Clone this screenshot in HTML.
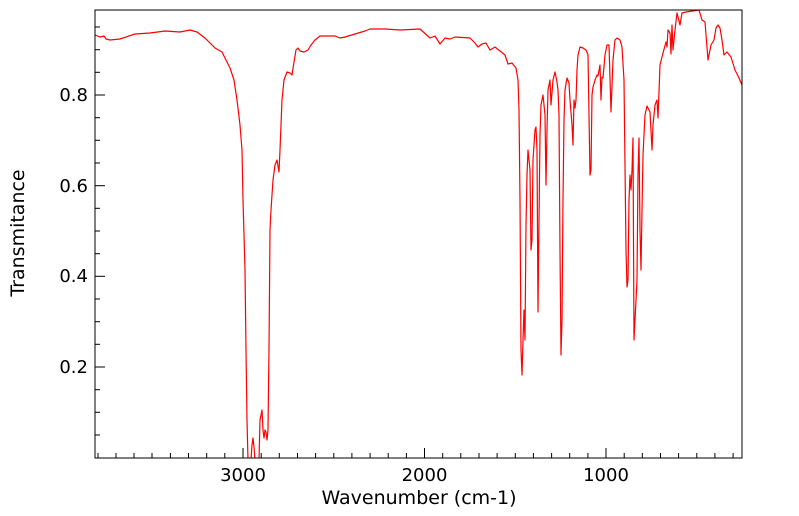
<!DOCTYPE html>
<html><head><meta charset="utf-8"><style>body{margin:0;background:#fff}svg{display:block}</style></head><body>
<svg width="799" height="516" viewBox="0 0 799 516" xmlns="http://www.w3.org/2000/svg" font-family="DejaVu Sans, Liberation Sans, sans-serif">
<rect width="799" height="516" fill="#fff"/>
<clipPath id="c"><rect x="95" y="10" width="647" height="448"/></clipPath>
<polyline clip-path="url(#c)" fill="none" stroke="#ff0000" stroke-width="1.2" stroke-linejoin="round" points="95,35 100,37 104,36 106,39 110,40 120,39 135,34 150,33 165,31 180,32 190,30 197,32 205,38 215,48 222,52 225,58 230,68 234,80 237,100 240,125 242,150 243,200 245,270 246,350 247,420 248,460 251,460 252,445 253,438 254,447 255,460 259,460 260,420 262,410 263,430 264,438 265,430 266,432 267,440 268,430 269,350 270,230 271,210 273,180 275,165 277,160 279,172 280,150 282,100 284,80 287,72 290,73 292,75 294,62 296,50 298,48 300,51 304,52 308,50 311,45 315,40 320,36 335,36 340,38 345,37 355,34 365,31 370,29 385,29 400,30 420,29 430,38 435,36 440,44 445,38 450,39 455,37 470,38 475,43 478,47 482,44 486,43 490,50 495,47 500,51 505,55 508,64 512,63 516,68 518,80 519,110 520,200 521,350 522,375 523,340 524,310 525,340 526,225 527,175 528,150 530,170 531,250 532,240 533,160 535,130 536,127 537,150 538,312 539,220 540,135 541,105 543,95 545,115 546,185 547,130 548,90 550,80 551,105 553,80 555,72 557,82 558,90 559,115 560,250 561,355 562,320 563,200 564,120 565,90 567,78 569,83 570,100 572,125 573,145 574,100 575,108 576,100 577,70 578,55 580,47 583,48 586,50 588,55 590,175 591,170 592,95 593,87 595,80 597,75 598,76 600,65 601,100 602,77 603,78 605,55 607,45 609,45 611,112 613,60 615,40 617,38 620,40 622,47 624,80 626,250 627,287 628,280 629,200 630,175 631,190 632,170 633,138 634,340 636,300 637,280 638,175 639,138 640,230 641,270 642,210 643,155 645,115 647,106 650,112 652,150 653,125 655,105 657,100 658,118 660,65 663,53 666,42 667,47 668,30 670,33 671,54 672,25 673,50 675,30 677,13 680,25 682,13 686,12 699,10 702,20 705,22 708,60 711,45 714,40 716,28 718,25 720,28 722,40 724,55 727,52 731,57 735,70 739,78 742,85"/>
<rect x="95" y="10" width="647" height="448" fill="none" stroke="#000" stroke-width="1"/>
<g stroke="#000" stroke-width="1">
<line x1="95" y1="95" x2="105" y2="95"/><line x1="95" y1="185.7" x2="105" y2="185.7"/><line x1="95" y1="276.3" x2="105" y2="276.3"/><line x1="95" y1="367" x2="105" y2="367"/>
<line x1="95" y1="27" x2="100" y2="27"/><line x1="95" y1="49.7" x2="100" y2="49.7"/><line x1="95" y1="72.3" x2="100" y2="72.3"/>
<line x1="95" y1="117.7" x2="100" y2="117.7"/><line x1="95" y1="140.3" x2="100" y2="140.3"/><line x1="95" y1="163" x2="100" y2="163"/>
<line x1="95" y1="208.3" x2="100" y2="208.3"/><line x1="95" y1="231" x2="100" y2="231"/><line x1="95" y1="253.7" x2="100" y2="253.7"/>
<line x1="95" y1="299" x2="100" y2="299"/><line x1="95" y1="321.7" x2="100" y2="321.7"/><line x1="95" y1="344.3" x2="100" y2="344.3"/>
<line x1="95" y1="389.7" x2="100" y2="389.7"/><line x1="95" y1="412.3" x2="100" y2="412.3"/><line x1="95" y1="435" x2="100" y2="435"/>
<line x1="243" y1="458" x2="243" y2="448"/><line x1="424.5" y1="458" x2="424.5" y2="448"/><line x1="606" y1="458" x2="606" y2="448"/>
</g>
<g stroke="#000" stroke-width="1">
<line x1="98" y1="458" x2="98" y2="453"/><line x1="116" y1="458" x2="116" y2="453"/><line x1="134" y1="458" x2="134" y2="453"/><line x1="152" y1="458" x2="152" y2="453"/><line x1="170.4" y1="458" x2="170.4" y2="453"/><line x1="188.5" y1="458" x2="188.5" y2="453"/><line x1="206.7" y1="458" x2="206.7" y2="453"/><line x1="224.8" y1="458" x2="224.8" y2="453"/>
<line x1="261.2" y1="458" x2="261.2" y2="453"/><line x1="279.3" y1="458" x2="279.3" y2="453"/><line x1="297.5" y1="458" x2="297.5" y2="453"/><line x1="315.6" y1="458" x2="315.6" y2="453"/><line x1="333.8" y1="458" x2="333.8" y2="453"/><line x1="351.9" y1="458" x2="351.9" y2="453"/><line x1="370.1" y1="458" x2="370.1" y2="453"/><line x1="388.2" y1="458" x2="388.2" y2="453"/><line x1="406.4" y1="458" x2="406.4" y2="453"/>
<line x1="442.7" y1="458" x2="442.7" y2="453"/><line x1="460.8" y1="458" x2="460.8" y2="453"/><line x1="479" y1="458" x2="479" y2="453"/><line x1="497.1" y1="458" x2="497.1" y2="453"/><line x1="515.3" y1="458" x2="515.3" y2="453"/><line x1="533.4" y1="458" x2="533.4" y2="453"/><line x1="551.6" y1="458" x2="551.6" y2="453"/><line x1="569.7" y1="458" x2="569.7" y2="453"/><line x1="587.9" y1="458" x2="587.9" y2="453"/>
<line x1="624.2" y1="458" x2="624.2" y2="453"/><line x1="642.3" y1="458" x2="642.3" y2="453"/><line x1="660.5" y1="458" x2="660.5" y2="453"/><line x1="678.6" y1="458" x2="678.6" y2="453"/><line x1="696.8" y1="458" x2="696.8" y2="453"/><line x1="714.9" y1="458" x2="714.9" y2="453"/><line x1="733.1" y1="458" x2="733.1" y2="453"/>
</g>
<g font-size="18" fill="#000">
<text x="88" y="101" text-anchor="end">0.8</text>
<text x="88" y="192" text-anchor="end">0.6</text>
<text x="88" y="282" text-anchor="end">0.4</text>
<text x="88" y="373" text-anchor="end">0.2</text>
<text x="243" y="481" text-anchor="middle">3000</text>
<text x="424.5" y="481" text-anchor="middle">2000</text>
<text x="606" y="481" text-anchor="middle">1000</text>
</g>
<g font-size="19" fill="#000">
<text x="419" y="504" text-anchor="middle">Wavenumber (cm-1)</text>
<text transform="translate(24,233) rotate(-90)" text-anchor="middle">Transmitance</text>
</g>
</svg>
</body></html>
